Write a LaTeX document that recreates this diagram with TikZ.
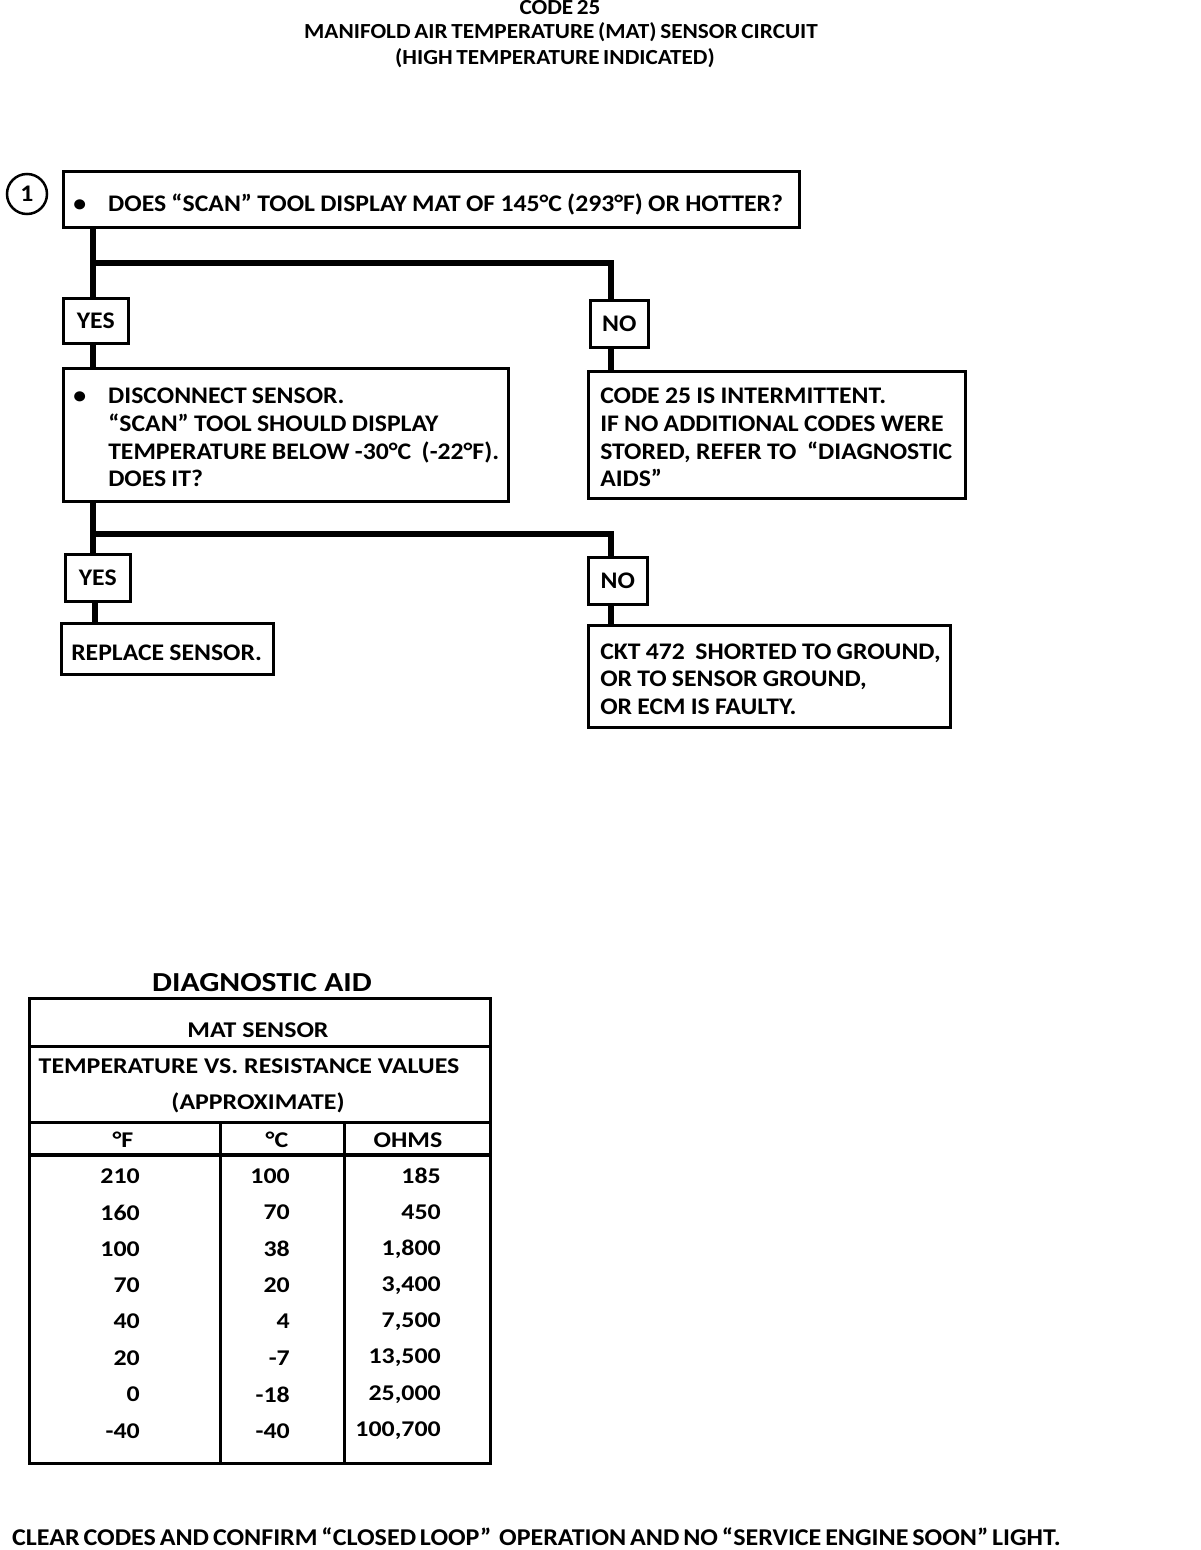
\documentclass[tikz,border=0pt]{standalone}
\usepackage{fontspec}
\setmainfont{Carlito}
\newfontfamily\bodyfam{Carlito}[FakeStretch=1.08]
\newfontfamily\tabfam{Carlito}[FakeStretch=1.15]
\newcommand\bodyfont{\bodyfam\fontsize{23.8}{27.7}\selectfont\bfseries\spaceskip=0.22em plus 0.02em minus 0.02em\relax}
\newcommand\footfont{\bodyfam\fontsize{24.1}{28}\selectfont\bfseries\spaceskip=0.16em plus 0.02em minus 0.02em\relax}
\newcommand\titlefont{\bodyfam\fontsize{21.5}{25}\selectfont\bfseries\spaceskip=0.17em plus 0.02em minus 0.02em\relax}
\newcommand\tabfont{\tabfam\fontsize{22.5}{26}\selectfont\bfseries}
\newcommand\bigfont{\tabfam\fontsize{27.5}{32}\selectfont\bfseries}
\newcommand\ind{\hspace*{30pt}}
\newcommand\bul{\makebox[30pt][l]{\hspace{-5pt}\textbullet}}
\newcommand\lines[3][5]{\raisebox{-#1pt}[\height][\depth]{\makebox[#2pt][l]{\begin{tabular}{@{}l@{}}#3\end{tabular}}}}
\begin{document}
\begin{tikzpicture}[x=1pt,y=-1pt,
  box/.style={draw, line width=2.5pt, anchor=north west, inner ysep=0pt, font=\bodyfont},
  tag/.style={draw, line width=2.5pt, anchor=north west, inner sep=0pt, font=\bodyfont, align=center},
  conn/.style={line width=5.5pt},
  tline/.style={line width=3pt},
  txt/.style={inner sep=0pt, font=\tabfont},
  num/.style={inner sep=0pt, font=\tabfont, anchor=east}]
\useasboundingbox (0,0) rectangle (1200,1550);
% title
\node[inner sep=0pt, font=\titlefont] (t1) at (560,8) {CODE 25};
\node[inner sep=0pt, font=\titlefont] (t2) at (561,32) {MANIFOLD AIR TEMPERATURE (MAT) SENSOR CIRCUIT};
\node[inner sep=0pt, font=\titlefont] (t3) at (555,58) {(HIGH TEMPERATURE INDICATED)};
% flow
\node[draw, circle, line width=2.5pt, minimum size=40pt, inner sep=0pt, font=\bodyfont] (c1) at (27,194) {1};
\node[box, inner xsep=15pt, minimum height=56pt] (b1) at (62,170)
  {\lines[7]{706}{\bul DOES “SCAN” TOOL DISPLAY MAT OF 145°C (293°F) OR HOTTER?}};
\node[tag, minimum width=65pt, minimum height=45pt] (y1) at (62,297) {YES};
\node[tag, minimum width=58pt, minimum height=47pt] (n1) at (589,299) {NO};
\node[box, inner xsep=15pt, minimum height=133pt] (b2) at (62,367)
  {\lines{415}{\bul DISCONNECT SENSOR.\\
   \ind“SCAN” TOOL SHOULD DISPLAY\\
   \ind TEMPERATURE BELOW -30°C\ \ (-22°F).\\
   \ind DOES IT?}};
\node[box, inner xsep=12pt, minimum height=127pt] (b3) at (587,370)
  {\lines{353}{CODE 25 IS INTERMITTENT.\\
   IF NO ADDITIONAL CODES WERE\\
   STORED, REFER TO\ \ “DIAGNOSTIC\\
   AIDS”}};
\node[tag, minimum width=65pt, minimum height=47pt] (y2) at (64,553) {YES};
\node[tag, minimum width=59pt, minimum height=47pt] (n2) at (587,556) {NO};
\node[box, inner xsep=10pt, minimum height=51pt] (b4) at (60,622)
  {\lines[6]{192}{REPLACE SENSOR.}};
\node[box, inner xsep=12pt, minimum height=102pt] (b5) at (587,624)
  {\lines{338}{CKT 472\ \ SHORTED TO GROUND,\\
   OR TO SENSOR GROUND,\\
   OR ECM IS FAULTY.}};
\coordinate (j1) at (93,263);
\coordinate (j1r) at (611,263);
\coordinate (j2) at (93,534);
\coordinate (j2r) at (611,534);
\coordinate (j3) at (95,600);
\draw[conn] (j1 |- b1.south) -- (j1 |- y1.north);
\draw[conn] (j1) -- (j1r) -- (j1r |- n1.north);
\draw[conn] (j1 |- y1.south) -- (j1 |- b2.north);
\draw[conn] (j1r |- n1.south) -- (j1r |- b3.north);
\draw[conn] (j2 |- b2.south) -- (j2 |- y2.north);
\draw[conn] (j2) -- (j2r) -- (j2r |- n2.north);
\draw[conn] (j3 |- y2.south) -- (j3 |- b4.north);
\draw[conn] (j2r |- n2.south) -- (j2r |- b5.north);
% table
\node[inner sep=0pt, font=\bigfont] (dt) at (262,983) {DIAGNOSTIC AID};
\draw[tline] (29,998) rectangle (490,1463);
\draw[tline] (29,1046) -- (490,1046);
\draw[tline] (29,1122) -- (490,1122);
\draw[line width=3.5pt] (29,1155) -- (490,1155);
\draw[tline] (220,1122) -- (220,1465);
\draw[tline] (344,1122) -- (344,1465);
\node[txt] (h1) at (258,1030) {MAT SENSOR};
\node[txt] (h2) at (249,1066) {TEMPERATURE VS. RESISTANCE VALUES};
\node[txt] (h3) at (258,1103) {(APPROXIMATE)};
\node[txt] (cf) at (123,1140) {°F};
\node[txt] (cc) at (277,1140) {°C};
\node[txt] (co) at (408,1140) {OHMS};
\foreach \f/\c/\o [count=\i] in {210/100/185,160/70/450,100/38/{1,800},70/20/{3,400},40/4/{7,500},20/-7/{13,500},0/-18/{25,000},-40/-40/{100,700}}{
  \pgfmathsetmacro\yy{1176+36.4*(\i-1)}
  \node[num] (f\i) at (140,\yy) {\f};
  \node[num] (c\i) at (290,\yy) {\c};
  \node[num] (o\i) at (441,\yy) {\o};
}
\node[inner sep=0pt, font=\footfont, anchor=west] (foot) at (12,1537)
  {CLEAR CODES AND CONFIRM “CLOSED LOOP”\ \ OPERATION AND NO “SERVICE ENGINE SOON” LIGHT.};
\end{tikzpicture}
\end{document}
